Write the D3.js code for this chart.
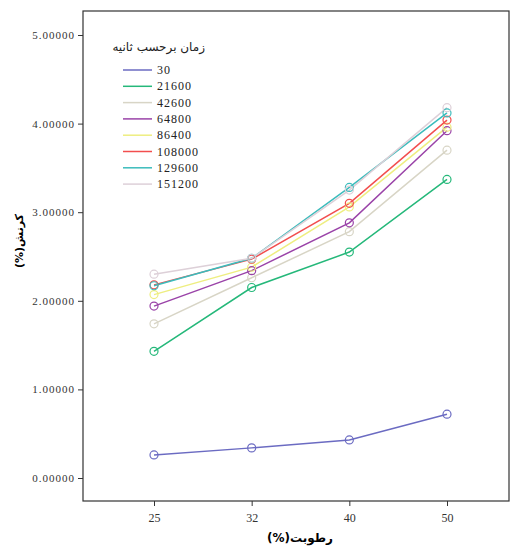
<!DOCTYPE html>
<html>
<head>
<meta charset="utf-8">
<script src="https://cdn.jsdelivr.net/npm/d3@7"></script>
<style>
  body { margin: 0; background: #fff; }
  svg { display: block; }
</style>
</head>
<body>
<svg id="chart"></svg>
<script>
// humidity categories on the x axis
var humidity = ["25", "32", "40", "50"];
var yTicks = [0, 1, 2, 3, 4, 5];

// time in seconds (legend) and colours
var times = ["30", "21600", "42600", "64800", "86400", "108000", "129600", "151200"];
var colors = ["#6b6bc2", "#25b87a", "#d8d5c6", "#9a43a8", "#eeee80", "#f24e4e", "#3bbcbc", "#ddd0d8"];

// strain (%) per series
var s30     = [0.26, 0.34, 0.43, 0.72];
var s21600  = [1.43, 2.15, 2.55, 3.37];
var s42600  = [1.74, 2.26, 2.78, 3.70];
var s64800  = [1.94, 2.34, 2.88, 3.92];
var s86400  = [2.07, 2.38, 3.06, 3.96];
var s108000 = [2.18, 2.47, 3.10, 4.04];
var s129600 = [2.17, 2.48, 3.28, 4.12];
var s151200 = [2.30, 2.48, 3.25, 4.18];
var values = [s30, s21600, s42600, s64800, s86400, s108000, s129600, s151200];

var svgWidth = 510, svgHeight = 548;
var frame = { left: 83, top: 11, right: 509, bottom: 501 };

var svg = d3.select("#chart")
    .attr("width", svgWidth)
    .attr("height", svgHeight);

var x = d3.scalePoint()
    .domain(humidity)
    .range([154, 447]);

var y = d3.scaleLinear()
    .domain([0, 5])
    .range([478, 35]);

// frame
svg.append("rect")
    .attr("x", frame.left)
    .attr("y", frame.top)
    .attr("width", frame.right - frame.left)
    .attr("height", frame.bottom - frame.top)
    .attr("fill", "none")
    .attr("stroke", "#333")
    .attr("stroke-width", 1.2);

// y axis
var yAxis = svg.append("g")
    .attr("transform", "translate(" + frame.left + ",0)")
    .call(d3.axisLeft(y).tickValues(yTicks).tickSize(5).tickFormat(d3.format(".5f")));
yAxis.select(".domain").remove();
yAxis.selectAll("line").attr("stroke", "#333");
yAxis.selectAll("text")
    .attr("font-family", "Liberation Serif")
    .attr("font-size", "11px")
    .attr("letter-spacing", "1px")
    .attr("fill", "#333");

// x axis
var xAxis = svg.append("g")
    .attr("transform", "translate(0," + frame.bottom + ")")
    .call(d3.axisBottom(x).tickSize(5));
xAxis.select(".domain").remove();
xAxis.selectAll("line").attr("stroke", "#333");
xAxis.selectAll("text")
    .attr("font-family", "Liberation Serif")
    .attr("font-size", "12px")
    .attr("dy", "1.1em")
    .attr("fill", "#333");

// axis titles
svg.append("text")
    .attr("x", 300)
    .attr("y", 542)
    .attr("text-anchor", "middle")
    .attr("font-family", "DejaVu Sans")
    .attr("font-weight", "bold")
    .attr("font-size", "12px")
    .attr("direction", "rtl")
    .text("رطوبت(%)");

svg.append("text")
    .attr("transform", "translate(23,241) rotate(-90)")
    .attr("text-anchor", "middle")
    .attr("font-family", "DejaVu Sans")
    .attr("font-weight", "bold")
    .attr("font-size", "11px")
    .attr("direction", "rtl")
    .text("کرنش(%)");

// lines
var line = d3.line()
    .x(function(d, i) { return x(humidity[i]); })
    .y(function(d) { return y(d); });

values.forEach(function(vals, k) {
    svg.append("path")
        .datum(vals)
        .attr("fill", "none")
        .attr("stroke", colors[k])
        .attr("stroke-width", 1.5)
        .attr("d", line);
});

values.forEach(function(vals, k) {
    svg.selectAll(".pt" + k)
        .data(vals)
        .enter().append("circle")
        .attr("cx", function(d, i) { return x(humidity[i]); })
        .attr("cy", function(d) { return y(d); })
        .attr("r", 4)
        .attr("fill", "none")
        .attr("stroke", colors[k])
        .attr("stroke-width", 1.2);
});

// legend
var legend = svg.append("g");
legend.append("text")
    .attr("x", 205)
    .attr("y", 51)
    .attr("text-anchor", "start")
    .attr("direction", "rtl")
    .attr("font-family", "DejaVu Sans")
    .attr("font-size", "12px")
    .attr("fill", "#222")
    .text("زمان برحسب ثانیه");

times.forEach(function(t, k) {
    var ly = 70 + k * 16.3;
    legend.append("line")
        .attr("x1", 123).attr("x2", 152)
        .attr("y1", ly).attr("y2", ly)
        .attr("stroke", colors[k])
        .attr("stroke-width", 1.5);
    legend.append("text")
        .attr("x", 157)
        .attr("y", ly + 4)
        .attr("font-family", "Liberation Serif")
        .attr("font-size", "12px")
        .attr("letter-spacing", "1px")
        .attr("fill", "#222")
        .text(t);
});
</script>
</body>
</html>
